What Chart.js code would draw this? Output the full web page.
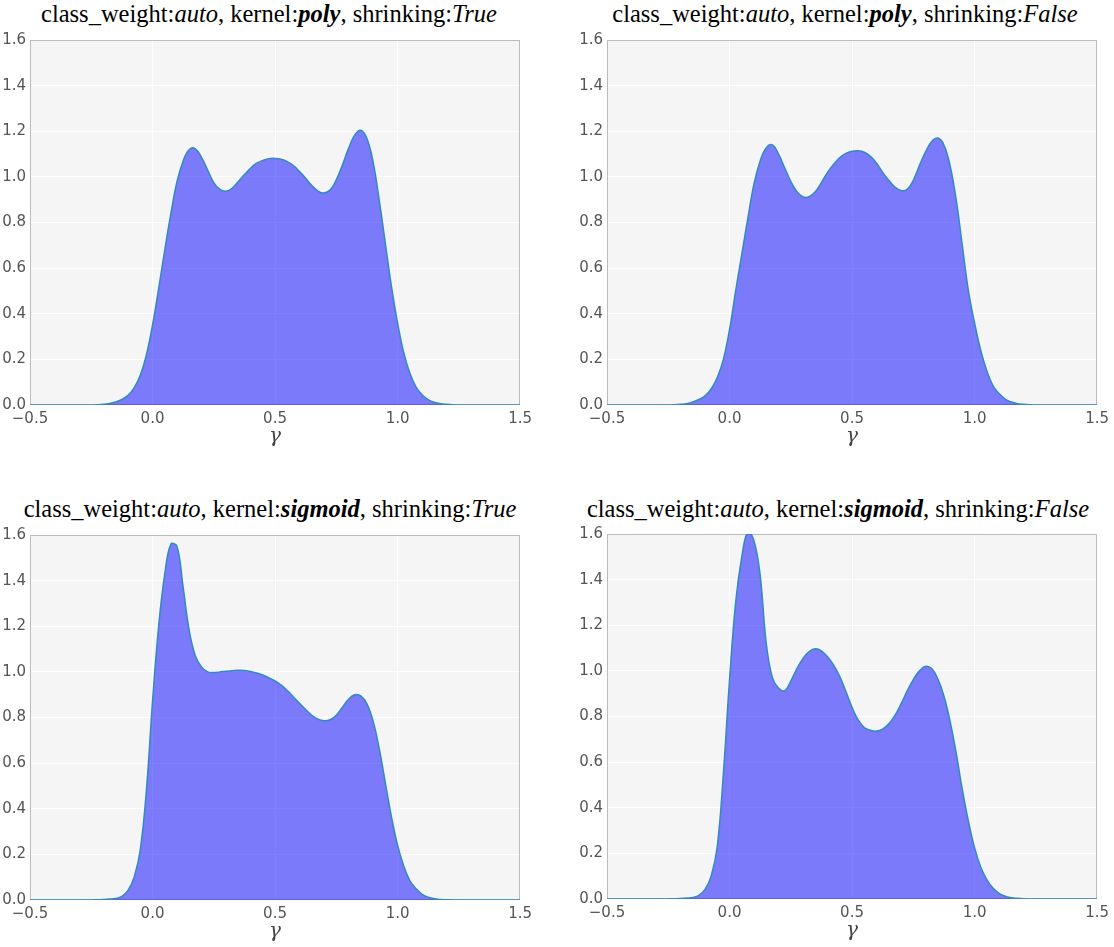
<!DOCTYPE html>
<html>
<head>
<meta charset="utf-8">
<script src="https://cdn.jsdelivr.net/npm/chart.js@4/dist/chart.umd.min.js"></script>
<style>
  html, body { margin: 0; padding: 0; background: #ffffff; overflow: hidden; }
  body { width: 1114px; height: 947px; position: relative; }
  canvas { position: absolute; }
  .t { position: absolute; width: 600px; text-align: center; white-space: nowrap;
       font-family: "Liberation Serif", serif; font-size: 24.5px; line-height: 24.5px; color: #000; }
</style>
</head>
<body>
<div class="t" style="left:-31px; top:1.5px;">class_weight:<i>auto</i>, kernel:<b><i>poly</i></b>, shrinking:<i>True</i></div>
<div class="t" style="left:545px; top:1.5px;">class_weight:<i>auto</i>, kernel:<b><i>poly</i></b>, shrinking:<i>False</i></div>
<div class="t" style="left:-30px; top:496.5px;">class_weight:<i>auto</i>, kernel:<b><i>sigmoid</i></b>, shrinking:<i>True</i></div>
<div class="t" style="left:538px; top:496.5px;">class_weight:<i>auto</i>, kernel:<b><i>sigmoid</i></b>, shrinking:<i>False</i></div>
<canvas id="c1" width="537" height="422" style="left:0px; top:27px;"></canvas>
<canvas id="c2" width="537" height="422" style="left:577px; top:27px;"></canvas>
<canvas id="c3" width="537" height="422" style="left:0px; top:522px;"></canvas>
<canvas id="c4" width="537" height="422" style="left:577px; top:521px;"></canvas>
<script>
// gamma grid (x values)
const gammaValues = [-0.5, -0.4, -0.3,
  -0.25, -0.225, -0.2, -0.175, -0.15, -0.125, -0.1, -0.075, -0.05, -0.025,
  0, 0.025, 0.05, 0.075, 0.1, 0.125, 0.15, 0.175, 0.2, 0.225,
  0.25, 0.275, 0.3, 0.325, 0.35, 0.375, 0.4, 0.425, 0.45, 0.475,
  0.5, 0.525, 0.55, 0.575, 0.6, 0.625, 0.65, 0.675, 0.7, 0.725,
  0.75, 0.775, 0.8, 0.825, 0.85, 0.875, 0.9, 0.925, 0.95, 0.975,
  1.0, 1.025, 1.05, 1.075, 1.1, 1.125, 1.15, 1.175, 1.2, 1.225,
  1.25,
  1.3, 1.4, 1.5];

// density: kernel poly, shrinking True
const polyTrue = [0, 0, 0,
  0, 0.001, 0.003, 0.007, 0.013, 0.024, 0.042, 0.075, 0.13, 0.22,
  0.35, 0.51, 0.68, 0.84, 0.98, 1.07, 1.12, 1.123, 1.085, 1.03,
  0.975, 0.945, 0.937, 0.95, 0.98, 1.01, 1.038, 1.06, 1.072, 1.08,
  1.081, 1.077, 1.067, 1.05, 1.023, 0.994, 0.962, 0.938, 0.929, 0.943,
  0.987, 1.052, 1.125, 1.183, 1.204, 1.168, 1.067, 0.9, 0.71, 0.52,
  0.36, 0.23, 0.14, 0.08, 0.045, 0.024, 0.012, 0.006, 0.003, 0.001,
  0,
  0, 0, 0];

// density: kernel poly, shrinking False
const polyFalse = [0, 0, 0,
  0, 0.001, 0.003, 0.006, 0.013, 0.024, 0.04, 0.07, 0.12, 0.2,
  0.33, 0.5, 0.66, 0.82, 0.97, 1.07, 1.128, 1.14, 1.10, 1.04,
  0.98, 0.935, 0.912, 0.913, 0.935, 0.975, 1.02, 1.055, 1.085, 1.103,
  1.112, 1.114, 1.108, 1.09, 1.06, 1.02, 0.985, 0.955, 0.94, 0.945,
  0.985, 1.05, 1.11, 1.155, 1.17, 1.14, 1.05, 0.9, 0.7, 0.5,
  0.36, 0.24, 0.15, 0.085, 0.05, 0.026, 0.013, 0.006, 0.003, 0.001,
  0,
  0, 0, 0];

// density: kernel sigmoid, shrinking True
const sigmoidTrue = [0, 0, 0,
  0, 0.001, 0.002, 0.004, 0.007, 0.016, 0.042, 0.1, 0.22, 0.48,
  0.87, 1.2, 1.43, 1.56, 1.55, 1.37, 1.18, 1.07, 1.022, 1.0,
  0.997, 1.0, 1.003, 1.005, 1.007, 1.006, 1.002, 0.995, 0.986, 0.974,
  0.96, 0.942, 0.918, 0.89, 0.862, 0.835, 0.81, 0.793, 0.786, 0.79,
  0.81, 0.845, 0.88, 0.9, 0.895, 0.86, 0.785, 0.665, 0.515, 0.365,
  0.24, 0.15, 0.085, 0.05, 0.025, 0.012, 0.005, 0.002, 0.001, 0,
  0,
  0, 0, 0];

// density: kernel sigmoid, shrinking False
const sigmoidFalse = [0, 0, 0,
  0, 0.001, 0.002, 0.004, 0.007, 0.016, 0.042, 0.1, 0.23, 0.55,
  0.96, 1.3, 1.5, 1.61, 1.57, 1.42, 1.12, 0.97, 0.925, 0.913,
  0.955, 1.01, 1.055, 1.085, 1.097, 1.088, 1.062, 1.025, 0.975, 0.91,
  0.84, 0.785, 0.752, 0.74, 0.736, 0.745, 0.768, 0.805, 0.855, 0.912,
  0.962, 1.0, 1.02, 1.01, 0.965, 0.89, 0.78, 0.64, 0.48, 0.34,
  0.225, 0.14, 0.085, 0.048, 0.025, 0.012, 0.006, 0.003, 0.001, 0,
  0,
  0, 0, 0];

const xTickLabels = ['\u22120.5', '0.0', '0.5', '1.0', '1.5'];
const yTickLabels = ['0.0', '0.2', '0.4', '0.6', '0.8', '1.0', '1.2', '1.4', '1.6'];

const panelBox = {
  id: 'panelBox',
  beforeDraw(chart) {
    const {ctx, chartArea: a} = chart;
    ctx.save();
    ctx.fillStyle = '#f5f5f5';
    ctx.fillRect(a.left, a.top, a.right - a.left, a.bottom - a.top);
    ctx.restore();
  },
  beforeDatasetsDraw(chart) {
    const {ctx, chartArea: a} = chart;
    ctx.save();
    ctx.strokeStyle = '#bcbcbc';
    ctx.lineWidth = 1;
    ctx.strokeRect(Math.round(a.left) + 0.5, Math.round(a.top) + 0.5,
                   Math.round(a.right - a.left) - 1, Math.round(a.bottom - a.top) - 1);
    ctx.restore();
  }
};

function makeChart(id, values) {
  const pts = gammaValues.map((g, i) => ({x: g, y: values[i]}));
  return new Chart(document.getElementById(id), {
    type: 'line',
    data: {
      datasets: [{
        data: pts,
        borderColor: '#348ABD',
        borderWidth: 1.5,
        backgroundColor: 'rgba(0,0,255,0.5)',
        fill: 'origin',
        pointRadius: 0,
        tension: 0.4
      }]
    },
    options: {
      responsive: false,
      animation: false,
      devicePixelRatio: 1,
      layout: { padding: { left: 0, top: 10, right: 15, bottom: 0 } },
      plugins: { legend: { display: false }, tooltip: { enabled: false }, title: { display: false } },
      scales: {
        x: {
          type: 'linear', min: -0.5, max: 1.5,
          afterFit(s) { s.height = 44; },
          afterBuildTicks(s) { s.ticks = xTickLabels.map((_, i) => ({value: -0.5 + 0.5 * i})); },
          ticks: {
            callback: (v, i) => xTickLabels[i],
            font: { family: 'DejaVu Sans', size: 15 }, color: '#555', padding: 5, maxRotation: 0
          },
          grid: { color: '#ffffff', lineWidth: 1, drawTicks: false },
          border: { display: false },
          title: { display: true, text: '\u03B3', font: { family: 'DejaVu Serif', style: 'italic', size: 20 },
                   color: '#444', padding: { top: 0, bottom: 0 } }
        },
        y: {
          type: 'linear', min: 0, max: 1.6,
          afterFit(s) { s.width = 30; },
          afterBuildTicks(s) { s.ticks = yTickLabels.map((_, i) => ({value: 0.2 * i})); },
          ticks: {
            callback: (v, i) => yTickLabels[i],
            font: { family: 'DejaVu Sans', size: 15 }, color: '#555', padding: 4
          },
          grid: { color: '#ffffff', lineWidth: 1, drawTicks: false },
          border: { display: false }
        }
      }
    },
    plugins: [panelBox]
  });
}

makeChart('c1', polyTrue);
makeChart('c2', polyFalse);
makeChart('c3', sigmoidTrue);
makeChart('c4', sigmoidFalse);
</script>
</body>
</html>
